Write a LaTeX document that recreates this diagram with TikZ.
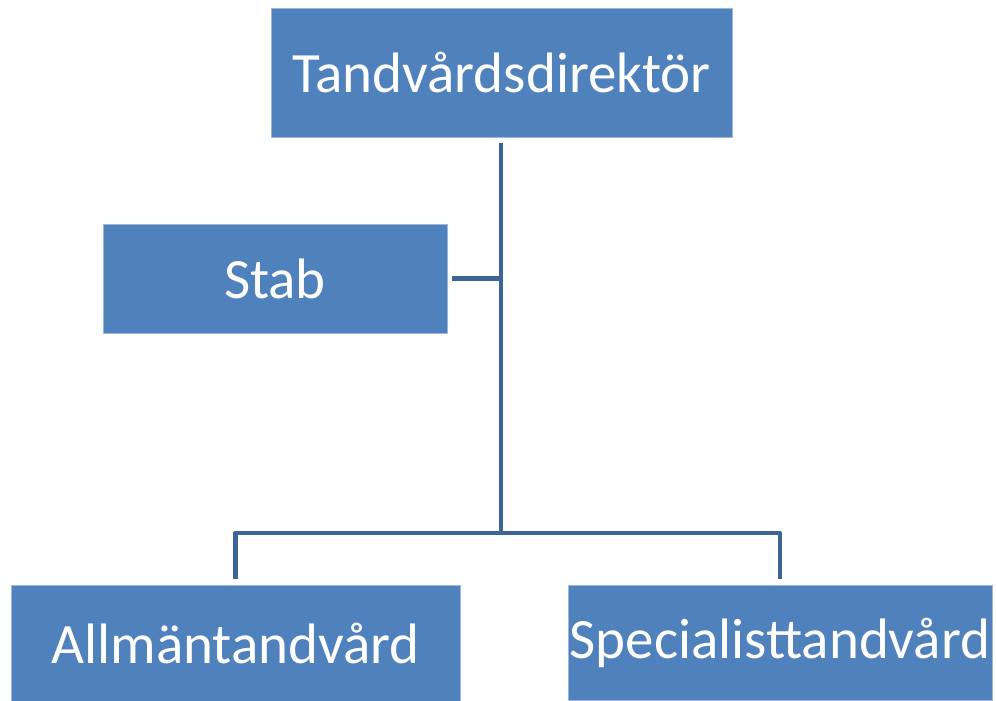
\documentclass[tikz,border=0pt]{standalone}
\usepackage{fontspec}
\setmainfont{Carlito}
\definecolor{boxblue}{HTML}{4F81BD}
\definecolor{boxedge}{HTML}{9DB7DA}
\definecolor{linkblue}{HTML}{3D6496}
\begin{document}
\begin{tikzpicture}[x=1pt,y=-1pt,
  orgbox/.style={rectangle, fill=boxblue, draw=boxedge, line width=0.6pt, inner sep=0pt, text=white, font=\fontsize{57}{64}\selectfont},
  link/.style={draw=linkblue, line width=4.5pt, line join=round}]
\useasboundingbox (0,0) rectangle (996,701);
\node[orgbox, minimum width=461pt, minimum height=129pt] (top) at (501.5,72.5) {Tandvårdsdirektör};
\node[orgbox, minimum width=344pt, minimum height=109pt] (stab) at (275,278.5) {Stab};
\node[orgbox, minimum width=449pt, minimum height=117pt] (allm) at (235.5,643.5) {Allmäntandvård};
\node[orgbox, minimum width=424pt, minimum height=115pt] (spec) at (780,642.5) {Specialisttandvård};
\coordinate (j) at (501,533);
\draw[link] ([yshift=-6pt]top.south -| j) -- (j);
\draw[link] ([xshift=5pt]stab.east) -- (stab.east -| j);
\draw[link] ([yshift=6pt]allm.north) -- (allm.north |- j) -- (spec.north |- j) -- ([yshift=6pt]spec.north);
\end{tikzpicture}
\end{document}
